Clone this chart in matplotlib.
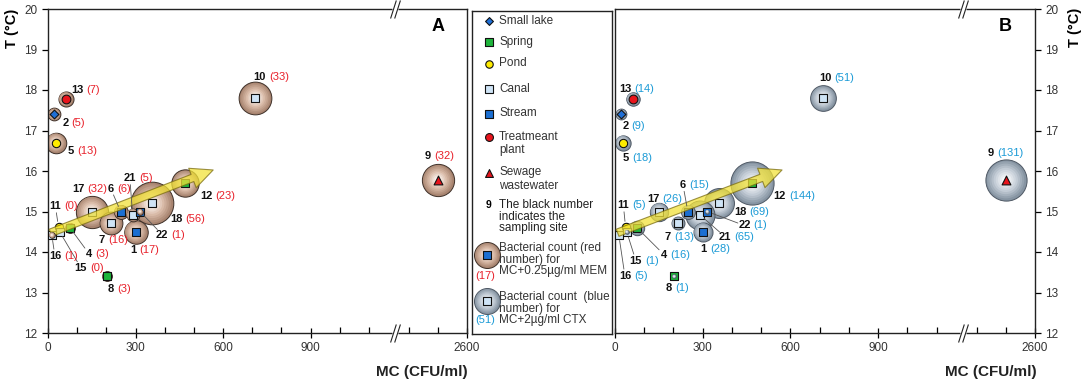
import numpy as np
import matplotlib.pyplot as plt
from matplotlib.patches import FancyArrowPatch
from matplotlib.path import Path
from matplotlib.colors import to_rgb

plt.rcParams['font.family'] = ['Liberation Sans', 'DejaVu Sans']

# sampling sites
sites = [1, 2, 4, 5, 6, 7, 8, 9, 10, 11, 12, 13, 15, 16, 17, 18, 21, 22]
site_type = ['Stream', 'Small lake', 'Spring', 'Pond', 'Stream', 'Canal', 'Spring',
             'Sewage', 'Canal', 'Pond', 'Spring', 'Treatment', 'Canal', 'Canal',
             'Canal', 'Canal', 'Canal', 'Stream']
mc = [300, 21, 75, 26, 249, 215, 202, 2500, 711, 36, 470, 61, 40, 13, 150, 356, 290, 315]
temp = [14.5, 17.4, 14.6, 16.7, 15.0, 14.71, 13.4, 15.78, 17.8, 14.62, 15.7, 17.78,
        14.5, 14.42, 15.0, 15.2, 14.92, 15.0]
count_mem = [17, 5, 3, 13, 6, 16, 3, 32, 33, 0, 23, 7, 0, 1, 32, 56, 5, 1]
count_ctx = [28, 9, 16, 18, 15, 13, 1, 131, 51, 5, 144, 14, 1, 5, 26, 69, 65, 1]

# trend arrows (start, end) in MC / T
trend_a = [(0, 14.45), (575, 16.05)]
trend_b = [(0, 14.45), (580, 16.05)]

legend_types = ['Small lake', 'Spring', 'Pond', 'Canal', 'Stream', 'Treatment', 'Sewage']
legend_names = ['Small lake', 'Spring', 'Pond', 'Canal', 'Stream', 'Treatmeant\nplant',
                'Sewage\nwastewater']

x_major = [0, 300, 600, 900, 2600]
x_minor = [100, 200, 400, 500, 700, 800, 1000, 1100, 2400, 2500]
y_ticks = [12, 13, 14, 15, 16, 17, 18, 19, 20]

styles = {
    'Small lake': ('D', '#1f6fd6', 20),
    'Spring': ('s', '#1fb53c', 34),
    'Pond': ('o', '#ffec00', 36),
    'Canal': ('s', '#cfe4f6', 32),
    'Stream': ('s', '#1b6fd2', 34),
    'Treatment': ('o', '#e8141c', 40),
    'Sewage': ('^', '#e8141c', 40),
}

pal_a = ('#a88470', '#d9bba8', '#fbf4ef', '#3e3028')
pal_b = ('#8694a2', '#c3ccd6', '#f6f8fa', '#4e5864')

# label offsets in pixels (right, down) from each point
off_a = {13: (5, -9), 2: (8, 9), 5: (12, 8), 12: (15, 13), 21: (-9, -37), 17: (-20, -23),
         6: (-13, -23), 18: (18, 16), 22: (16, 23), 7: (-12, 17), 1: (-5, 18),
         11: (-9, -21), 16: (-3, 21), 15: (15, 36), 4: (16, 26), 8: (1, 13),
         10: (-2, -21), 9: (-13, -24)}
off_b = {13: (-14, -10), 2: (1, 12), 5: (0, 15), 10: (-4, -20), 12: (21, 13), 6: (-8, -27),
         17: (-12, -13), 11: (-8, -22), 18: (15, 9), 22: (31, 14), 21: (19, 22),
         7: (-13, 14), 1: (-2, 17), 4: (24, 27), 15: (3, 29), 16: (0, 41), 8: (-8, 12),
         9: (-18, -27)}
lead_a = {21, 6, 22, 11, 16, 15, 4}
lead_b = {6, 11, 22, 21, 4, 15, 16}

W, H = 1084, 381
fig = plt.figure(figsize=(W / 100, H / 100), dpi=100)


def box(l, t, r, b):
    return [l / W, 1 - b / H, (r - l) / W, (b - t) / H]


xp = [-1000, 1190, 2356, 6000]
pp = [-1000, 1190, 1192, 1192 + 3644]


def fwd(v):
    return np.interp(v, xp, pp)


def inv(p):
    return np.interp(p, pp, xp)


def mix(c1, c2, t):
    a, b = np.array(to_rgb(c1)), np.array(to_rgb(c2))
    return tuple(a + (b - a) * t)


def bubble(ax, x, y, r_px, pal, z):
    edge, mid, center, outline = pal
    r = r_px * 0.72
    n = 9
    for k in range(n):
        t = k / (n - 1)
        col = mix(edge, mid, t * 2) if t < 0.5 else mix(mid, center, (t - 0.5) * 2)
        rr = r * (1 - 0.82 * t)
        ax.scatter([x], [y], s=(2 * rr) ** 2, color=col, zorder=z + k * 0.001,
                   edgecolors=outline if k == 0 else 'none', linewidths=0.7 if k == 0 else 0)


def break_marks(ax):
    slash = Path([(-1.2, -2.2), (0.2, 2.2), (-0.2, -2.2), (1.2, 2.2)],
                 [Path.MOVETO, Path.LINETO, Path.MOVETO, Path.LINETO])
    for yy in (0, 1):
        ax.plot([1200], [yy], marker='s', ms=4, color='white', mec='none',
                transform=ax.get_xaxis_transform(), clip_on=False, zorder=10)
        ax.plot([1200], [yy], marker=slash, ms=13, mfc='none', mec='#222', mew=0.8,
                transform=ax.get_xaxis_transform(), clip_on=False, zorder=11)


def panel(ax, counts, kscale, pal, offs, leads, ccol, trend, letter, right):
    ax.set_xscale('function', functions=(fwd, inv))
    ax.set_xlim(0, 2600)
    ax.set_ylim(12, 20)
    ax.set_xticks(x_major)
    ax.set_xticklabels([str(v) for v in x_major])
    ax.set_xticks(x_minor, minor=True)
    ax.set_yticks(y_ticks)
    ax.tick_params(axis='x', which='major', direction='inout', length=7, width=0.9,
                   labelsize=8.5, labelcolor='#333', pad=3)
    ax.tick_params(axis='x', which='minor', direction='in', length=4, width=0.9)
    if right:
        ax.yaxis.tick_right()
    ax.tick_params(axis='y', direction='out', length=4, width=0.9, labelsize=8.5,
                   labelcolor='#333')
    for sp in ax.spines.values():
        sp.set_linewidth(1.0)
        sp.set_color('#222')

    order = np.argsort(counts)[::-1]
    for j, i in enumerate(order):
        n = counts[i]
        if n == 0:
            continue
        z = 4.5 if n <= 1 else 2 + j * 0.02
        bubble(ax, mc[i], temp[i], kscale * np.sqrt(n), pal, z)

    for tp, (mk, fc, s) in styles.items():
        idx = [i for i, t in enumerate(site_type) if t == tp]
        ax.scatter([mc[i] for i in idx], [temp[i] for i in idx], marker=mk, s=s,
                   color=fc, edgecolors='#111', linewidths=0.8, zorder=3)

    arr = FancyArrowPatch(trend[0], trend[1],
                          arrowstyle='simple,head_length=16,head_width=15,tail_width=5.5',
                          mutation_scale=1, fc='#f2e23a', ec='#7a6c12', lw=0.8,
                          alpha=0.75, zorder=4)
    ax.add_patch(arr)

    for i, s in enumerate(sites):
        dx, dy = offs[s]
        t = ax.annotate(str(s), (mc[i], temp[i]), xytext=(dx, -dy), textcoords='offset pixels',
                        ha='left', va='center', fontsize=8, fontweight='bold', color='#111',
                        zorder=6)
        ax.annotate(f'({counts[i]})', xy=(1, 0.5), xycoords=t, xytext=(3, 0),
                    textcoords='offset pixels', ha='left', va='center', fontsize=8,
                    color=ccol, zorder=6)
        if s in leads:
            ax.annotate('', xy=(mc[i], temp[i]), xytext=(0.5, 0.5), textcoords=t,
                        arrowprops=dict(arrowstyle='-', color='#555', lw=0.6,
                                        shrinkA=5, shrinkB=4), zorder=5)

    ax.text(0.93, 0.945, letter, transform=ax.transAxes, ha='center', va='center',
            fontsize=13, fontweight='bold')
    break_marks(ax)


axA = fig.add_axes(box(48, 9, 467, 333))
axB = fig.add_axes(box(615, 9, 1035, 333))
panel(axA, count_mem, 2.85, pal_a, off_a, lead_a, '#e8202a', trend_a, 'A', False)
panel(axB, count_ctx, 1.8, pal_b, off_b, lead_b, '#1a9ad6', trend_b, 'B', True)

fig.text(12 / W, 1 - 28 / H, 'T (°C)', rotation=90, ha='center', va='center',
         fontsize=10.5, fontweight='bold')
fig.text(1075 / W, 1 - 27 / H, 'T (°C)', rotation=90, ha='center', va='center',
         fontsize=10.5, fontweight='bold')
fig.text(468 / W, 1 - 372 / H, 'MC (CFU/ml)', ha='right', va='center', fontsize=11,
         fontweight='bold', color='#222')
fig.text(1037 / W, 1 - 372 / H, 'MC (CFU/ml)', ha='right', va='center', fontsize=11,
         fontweight='bold', color='#222')

# legend panel
axL = fig.add_axes(box(472, 11, 612, 334))
axL.set_xlim(0, 140)
axL.set_ylim(323, 0)
axL.set_xticks([])
axL.set_yticks([])
for sp in axL.spines.values():
    sp.set_linewidth(1.0)
    sp.set_color('#222')

leg_y = [10, 31, 53, 78, 103, 126, 162]
for tp, name, y in zip(legend_types, legend_names, leg_y):
    mk, fc, s = styles[tp]
    axL.scatter([17], [y], marker=mk, s=s * 0.8, color=fc, edgecolors='#111', linewidths=0.8)
    axL.text(27, y - 6.5, name, ha='left', va='top', fontsize=8.5, color='#333',
             linespacing=1.15)

axL.text(17, 194, '9', ha='center', va='center', fontsize=7.5, fontweight='bold')
axL.text(27, 188, 'The black number\nindicates the\nsampling site', ha='left', va='top',
         fontsize=8.5, color='#222', linespacing=0.95)

bubble(axL, 15, 244, 13, pal_a, 2)
axL.scatter([15], [244], marker='s', s=30, color=styles['Stream'][1], edgecolors='#111',
            linewidths=0.8, zorder=3)
axL.text(13, 265, '(17)', ha='center', va='center', fontsize=8, color='#e8202a')
axL.text(27, 231, 'Bacterial count (red\nnumber) for\nMC+0.25µg/ml MEM', ha='left',
         va='top', fontsize=8.5, color='#333', linespacing=0.95)

bubble(axL, 15, 290, 13, pal_b, 2)
axL.scatter([15], [290], marker='s', s=30, color=styles['Canal'][1], edgecolors='#111',
            linewidths=0.8, zorder=3)
axL.text(13, 309, '(51)', ha='center', va='center', fontsize=8, color='#1a9ad6')
axL.text(27, 280, 'Bacterial count  (blue\nnumber) for\nMC+2µg/ml CTX', ha='left',
         va='top', fontsize=8.5, color='#333', linespacing=0.95)

fig.savefig('out.png', dpi=100)
